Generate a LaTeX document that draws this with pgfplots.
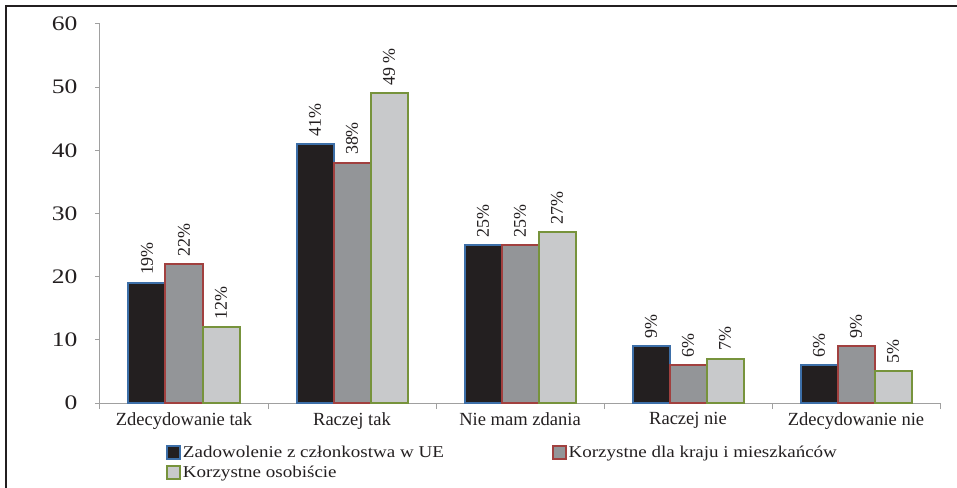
\documentclass[border=0pt]{standalone}
\usepackage{fontspec}
\setmainfont{Liberation Serif}[FakeStretch=1.15]
\newfontfamily\rotfont{Liberation Serif}
\newfontfamily\tickfont{Liberation Serif}[FakeStretch=1.24]
\usepackage{pgfplots}
\pgfplotsset{compat=1.18}
\definecolor{txt}{HTML}{231F20}
\definecolor{axc}{HTML}{A0A0A0}
\definecolor{bar1}{HTML}{231F20}
\definecolor{brd1}{HTML}{3D6FA8}
\definecolor{bar2}{HTML}{939598}
\definecolor{brd2}{HTML}{A1403F}
\definecolor{bar3}{HTML}{C8C9CB}
\definecolor{brd3}{HTML}{77933C}
\begin{document}
\begin{tikzpicture}
\useasboundingbox (-100bp,-85bp) rectangle (857bp,403bp);
\draw[txt, line width=1.4bp] (-94bp,-86bp) -- (-94bp,397bp) -- (856.5bp,397bp);
\begin{axis}[
  scale only axis,
  width=840bp, height=379bp,
  xmin=0.5, xmax=5.5, ymin=0, ymax=60,
  axis lines=left,
  axis line style={axc, line width=1bp, -},
  ybar, bar width=37bp,
  ytick={0,10,...,60},
  xtick={1,2,3,4,5},
  xticklabels={Zdecydowanie tak, Raczej tak, Nie mam zdania, Raczej nie, Zdecydowanie nie},
  minor xtick={0.5,1.5,...,5.5},
  major x tick style={draw=none},
  minor x tick style={axc, line width=1bp},
  minor tick length=6bp,
  y tick style={axc, line width=1bp},
  major tick length=5bp,
  tick align=outside,
  /pgf/number format/assume math mode=true,
  yticklabel style={font=\tickfont\fontsize{20.7}{22}\selectfont, text=txt, xshift=-14bp},
  xticklabel style={font=\rotfont\fontsize{18.6}{20}\selectfont, text=txt, yshift=-1bp},
  nodes near coords,
  point meta=explicit symbolic,
  nodes near coords style={rotate=90, anchor=west, font=\rotfont\fontsize{18}{20}\selectfont, text=txt, inner xsep=7bp, inner ysep=1bp},
  legend columns=2,
  legend cell align=left,
  legend style={at={(rel axis cs:0.075,-0.103)}, anchor=north west, draw=none, fill=none,
    font=\fontsize{16.6}{18}\selectfont, text=txt, row sep=3bp,
    /tikz/every even column/.append style={column sep=106bp}},
  legend image code/.code={\draw[#1, line width=1.8bp] (0bp,-6.5bp) rectangle (13bp,6.5bp);},
  every axis plot/.append style={line width=2bp},
]
\addplot[fill=bar1, draw=brd1, line width=2bp, bar shift=-37bp] coordinates {(1,19) [19\%] (2,41) [41\%] (3,25) [25\%] (4,9) [9\%] (5,6) [6\%]};
\addplot[fill=bar2, draw=brd2, line width=2bp, bar shift=0bp] coordinates {(1,22) [22\%] (2,38) [38\%] (3,25) [25\%] (4,6) [6\%] (5,9) [9\%]};
\addplot[fill=bar3, draw=brd3, line width=2bp, bar shift=37bp] coordinates {(1,12) [12\%] (2,49) [49 \%] (3,27) [27\%] (4,7) [7\%] (5,5) [5\%]};
\legend{Zadowolenie z członkostwa w UE, Korzystne dla kraju i mieszkańców, Korzystne osobiście}
\end{axis}
\end{tikzpicture}
\end{document}
